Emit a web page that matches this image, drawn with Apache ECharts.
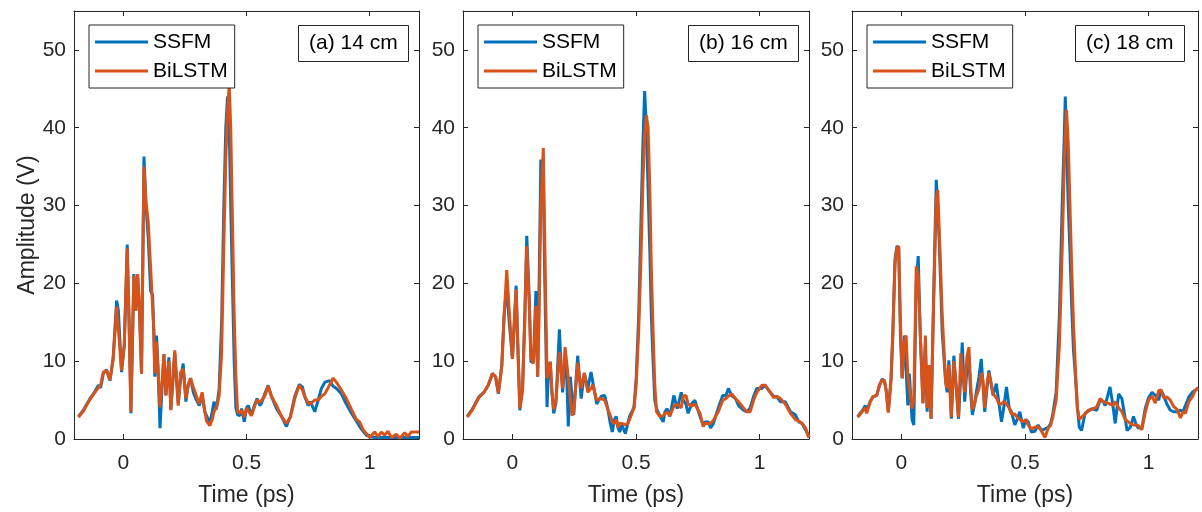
<!DOCTYPE html>
<html>
<head>
<meta charset="utf-8">
<script src="https://cdn.jsdelivr.net/npm/echarts@6/dist/echarts.min.js"></script>
<style>
html,body{margin:0;padding:0;background:#fff;}
#chart{width:1202px;height:512px;}
</style>
</head>
<body>
<div id="chart"></div>
<script>
// ---- data ----
const seriesNames = ['SSFM', 'BiLSTM'];
const panelLabels = ['(a) 14 cm', '(b) 16 cm', '(c) 18 cm'];
const xTicks = [0, 0.5, 1];
const yTicks = [0, 10, 20, 30, 40, 50];

const t14 = [-0.182,-0.162,-0.135,-0.115,-0.101,-0.092,-0.081,-0.068,-0.054,-0.041,
-0.027,-0.020,-0.007,0.004,0.016,0.024,0.031,0.043,0.051,0.058,
0.065,0.074,0.084,0.092,0.101,0.111,0.119,0.124,0.128,0.135,
0.141,0.149,0.158,0.165,0.173,0.185,0.193,0.203,0.209,0.223,
0.232,0.243,0.254,0.264,0.273,0.284,0.297,0.308,0.320,0.331,
0.338,0.351,0.361,0.368,0.378,0.389,0.399,0.408,0.416,0.423,
0.430,0.436,0.443,0.450,0.457,0.464,0.473,0.480,0.491,0.500,
0.507,0.520,0.534,0.543,0.554,0.561,0.574,0.588,0.601,0.622,
0.642,0.662,0.678,0.696,0.714,0.727,0.736,0.750,0.759,0.777,
0.791,0.804,0.818,0.838,0.851,0.865,0.885,0.905,0.926,0.946,
0.959,0.973,0.986,1.000,1.020,1.034,1.047,1.061,1.074,1.088,
1.108,1.122,1.142,1.155,1.169,1.186,1.200];
const ssfm14 = [2.9,3.7,5.2,6.1,6.9,6.6,8.4,8.9,7.5,10.5,
17.8,16.5,8.6,12.0,25.0,14.0,3.3,21.2,16.5,21.2,
17.0,8.4,36.3,30.0,26.0,19.0,18.5,13.5,8.0,13.3,
9.0,1.4,7.0,10.9,5.6,10.5,3.8,8.0,11.0,4.5,
7.5,9.7,4.8,7.0,7.8,6.0,5.0,4.3,5.5,3.5,
3.0,2.0,3.5,4.8,3.8,6.5,15.0,30.0,40.0,44.0,
40.0,30.0,20.0,10.0,4.0,3.1,3.0,3.9,2.2,4.0,
4.3,3.1,4.5,5.2,4.3,4.6,5.8,6.9,5.5,3.9,
2.9,1.6,2.9,5.5,7.0,6.7,5.5,4.3,4.8,3.5,
5.0,6.5,7.3,7.5,6.8,6.5,5.8,4.5,3.3,2.3,
1.6,1.0,0.5,0.3,0.2,0.2,0.2,0.2,0.2,0.2,
0.2,0.2,0.2,0.2,0.2,0.2,0.2];
const bilstm14 = [2.8,3.6,5.1,6.0,6.6,6.9,8.6,8.8,7.6,10.2,
17.0,17.2,8.8,12.0,24.5,15.0,3.5,21.0,16.5,21.2,
17.5,8.4,35.0,30.5,28.0,22.0,17.0,14.0,8.5,12.5,
9.0,4.1,7.5,10.9,5.6,10.0,3.7,9.0,11.4,4.3,
8.5,9.0,5.2,7.0,7.8,6.7,5.5,4.5,6.0,3.5,
2.3,1.7,2.5,3.5,4.0,5.5,11.0,25.0,36.0,42.0,
45.5,40.0,28.0,16.0,8.0,3.5,3.3,3.7,2.8,4.0,
3.8,3.0,4.3,5.0,4.7,4.6,5.5,6.8,5.5,4.3,
2.9,2.0,2.8,5.2,6.9,6.3,5.5,4.6,4.5,5.0,
5.0,5.5,5.8,7.0,7.8,7.3,6.3,5.2,3.8,2.5,
2.2,1.2,0.7,0.2,0.9,0.3,0.9,0.5,1.0,0.2,
0.6,0.1,0.8,0.3,0.9,0.9,0.9];

const t16 = [-0.183,-0.163,-0.136,-0.115,-0.098,-0.081,-0.068,-0.057,-0.043,-0.034,
-0.023,-0.014,0.000,0.015,0.020,0.030,0.041,0.050,0.058,0.068,
0.075,0.085,0.095,0.102,0.108,0.115,0.125,0.131,0.140,0.146,
0.153,0.160,0.167,0.176,0.190,0.196,0.203,0.213,0.219,0.226,
0.234,0.241,0.248,0.264,0.271,0.278,0.291,0.305,0.318,0.325,
0.341,0.359,0.373,0.386,0.396,0.404,0.413,0.420,0.427,0.434,
0.443,0.457,0.467,0.474,0.492,0.501,0.511,0.519,0.528,0.535,
0.542,0.549,0.556,0.562,0.569,0.576,0.583,0.596,0.610,0.617,
0.626,0.637,0.653,0.667,0.683,0.691,0.702,0.711,0.725,0.738,
0.759,0.772,0.779,0.793,0.802,0.813,0.833,0.851,0.864,0.874,
0.888,0.901,0.915,0.935,0.949,0.962,0.976,0.989,1.009,1.023,
1.043,1.057,1.070,1.084,1.104,1.125,1.145,1.159,1.172,1.186,
1.200];
const ssfm16 = [2.9,3.8,5.4,6.0,6.9,8.4,8.0,5.8,9.5,15.8,
19.7,15.4,10.3,19.7,14.0,3.7,6.5,16.0,26.1,18.0,
9.9,9.9,19.0,8.0,20.0,35.9,33.0,20.1,4.1,9.0,
9.9,6.0,3.3,4.6,14.1,10.0,6.0,10.0,9.0,1.6,
8.0,5.5,3.1,10.7,8.0,5.2,8.4,6.5,8.6,8.6,
4.5,5.5,5.6,3.9,2.0,0.9,2.5,2.9,1.5,0.9,
1.8,0.7,2.0,2.9,4.1,8.0,16.0,26.5,38.0,44.7,
40.0,32.0,24.0,16.0,10.0,5.0,3.9,3.0,2.2,3.5,
3.9,2.9,5.6,3.9,6.0,5.0,4.5,3.3,4.5,5.0,
2.9,1.8,2.2,2.2,1.4,2.0,4.0,5.6,5.6,6.5,
5.5,5.3,4.3,3.7,3.5,4.0,5.5,6.5,6.5,6.9,
6.0,5.5,5.4,4.8,4.8,3.5,3.1,2.2,2.0,1.2,
0.2];
const bilstm16 = [2.8,3.7,5.3,6.0,6.9,8.4,8.0,5.9,9.3,15.5,
21.7,17.0,10.3,19.2,13.7,3.9,6.3,15.0,24.8,17.5,
10.5,9.7,17.1,8.0,16.0,30.0,37.4,25.0,7.8,9.0,
9.9,6.0,3.8,4.9,11.2,11.0,6.5,11.8,10.0,7.8,
8.0,3.0,3.5,9.8,8.0,6.5,8.5,6.0,6.5,7.0,
5.0,5.2,5.0,3.8,3.0,2.2,2.0,2.5,1.5,2.0,
2.0,1.8,2.0,2.5,4.0,7.0,14.0,22.0,33.0,39.0,
41.6,40.0,32.0,22.0,14.0,7.0,3.5,2.9,3.0,3.0,
3.5,3.0,4.2,4.5,4.0,5.5,5.6,4.5,4.2,4.5,
3.3,1.6,2.0,2.0,2.0,2.4,3.5,5.0,5.2,5.5,
5.8,5.2,4.8,4.0,3.5,3.5,5.0,6.0,6.9,6.9,
6.0,5.3,5.5,5.2,4.5,3.3,2.5,2.3,2.0,1.4,
0.2];

const t18 = [-0.177,-0.157,-0.146,-0.141,-0.127,-0.116,-0.100,-0.089,-0.078,-0.069,
-0.062,-0.053,-0.042,-0.035,-0.026,-0.018,-0.011,-0.004,0.003,0.012,
0.019,0.026,0.032,0.043,0.050,0.060,0.068,0.076,0.087,0.097,
0.104,0.111,0.120,0.130,0.141,0.147,0.154,0.165,0.179,0.185,
0.192,0.202,0.212,0.222,0.231,0.240,0.246,0.256,0.265,0.273,
0.280,0.287,0.296,0.303,0.314,0.323,0.330,0.337,0.346,0.354,
0.364,0.371,0.384,0.395,0.405,0.414,0.425,0.436,0.445,0.459,
0.468,0.479,0.493,0.503,0.513,0.526,0.540,0.553,0.567,0.581,
0.594,0.604,0.612,0.626,0.639,0.651,0.658,0.663,0.668,0.675,
0.682,0.689,0.696,0.704,0.712,0.720,0.729,0.743,0.756,0.770,
0.790,0.804,0.817,0.824,0.844,0.855,0.865,0.879,0.892,0.906,
0.913,0.926,0.939,0.950,0.959,0.973,0.987,1.000,1.014,1.027,
1.041,1.050,1.061,1.074,1.088,1.101,1.115,1.129,1.139,1.149,
1.163,1.177,1.190,1.200];
const ssfm18 = [2.9,3.7,4.3,3.5,4.8,5.4,5.6,6.9,7.7,7.5,
6.3,3.5,7.8,13.7,23.1,24.8,24.5,13.3,7.8,13.3,
13.3,4.3,8.4,2.5,1.8,20.0,23.5,13.7,4.6,12.0,
3.5,9.5,2.6,18.0,33.3,30.0,24.4,13.7,7.3,6.0,
10.1,2.6,10.7,6.5,2.6,8.0,12.4,4.8,9.0,10.5,
6.0,3.1,4.5,6.0,8.0,10.3,7.0,3.5,6.5,8.8,
6.8,5.6,7.1,4.5,2.2,4.0,6.7,4.0,3.5,1.8,
2.5,3.5,1.4,2.5,2.2,0.9,1.0,1.8,1.1,1.3,
1.5,2.0,3.1,6.0,15.8,30.7,38.0,44.0,38.0,30.0,
24.0,17.0,11.5,8.0,4.0,1.5,1.1,3.3,3.6,3.9,
3.7,5.0,4.8,4.3,6.7,4.5,2.0,5.8,5.2,2.5,
1.1,1.5,2.9,1.8,1.4,1.4,4.0,5.3,6.0,5.6,
5.0,6.3,5.6,4.5,3.7,3.5,3.5,3.7,3.5,4.3,
5.4,6.0,6.3,6.5];
const bilstm18 = [2.8,3.6,4.0,3.3,4.7,5.4,5.6,6.9,7.6,7.5,
6.3,3.4,7.6,13.0,22.5,24.5,24.8,15.0,7.8,12.5,
13.3,8.0,7.8,3.9,5.0,22.2,21.0,13.7,4.6,13.3,
4.0,9.5,2.6,17.0,31.0,32.0,26.0,16.0,7.3,6.5,
9.5,2.8,10.0,6.5,2.8,11.0,9.0,6.0,10.5,11.8,
7.0,3.8,4.5,5.5,6.5,8.5,7.5,4.0,7.0,8.5,
7.0,5.8,5.3,4.5,4.5,4.8,4.5,4.0,3.2,3.2,
2.8,2.5,2.2,2.5,1.8,1.3,1.5,1.6,1.0,0.2,
1.4,1.8,2.8,5.0,12.0,25.0,34.0,39.0,42.3,38.0,
30.0,22.0,15.0,9.0,4.0,2.5,2.8,3.2,3.7,3.8,
4.1,5.2,4.8,4.6,4.5,4.3,4.8,4.0,3.5,2.5,
2.5,2.0,1.8,1.8,1.7,1.2,3.5,5.0,5.5,4.6,
6.2,6.3,5.3,5.4,5.0,4.2,3.8,2.7,3.5,3.3,
4.8,5.4,6.3,6.6];

// ---- layout / styling ----
const panels = [
  {t: t14, s: ssfm14, b: bilstm14, left: 74, width: 345, legendLeft: 89, labelLeft: 298},
  {t: t16, s: ssfm16, b: bilstm16, left: 463, width: 346, legendLeft: 478, labelLeft: 688},
  {t: t18, s: ssfm18, b: bilstm18, left: 852, width: 346, legendLeft: 867, labelLeft: 1075}
];
panels.forEach((p, i) => {
  if (p.t.length !== p.s.length || p.t.length !== p.b.length) {
    throw new Error('length mismatch panel ' + i + ': ' + p.t.length + ' ' + p.s.length + ' ' + p.b.length);
  }
});

const FONT = 'Liberation Sans, Arial, Helvetica, sans-serif';
const AX = '#262626';
const BLUE = '#0072BD';
const ORANGE = '#D95319';
const TOP = 11, HEIGHT = 430;

const grid = [], xAxis = [], yAxis = [], series = [], legend = [], title = [];
panels.forEach((p, i) => {
  grid.push({left: p.left, top: TOP, width: p.width, height: HEIGHT, containLabel: false});
  const lineStyle = {color: AX, width: 1};
  const baseX = {
    gridIndex: i, type: 'value', min: -0.2, max: 1.2,
    splitLine: {show: false},
    axisLine: {show: true, onZero: false, lineStyle},
    axisTick: {show: true, inside: true, length: 5, customValues: xTicks, lineStyle}
  };
  xAxis.push(Object.assign({}, baseX, {
    position: 'bottom',
    axisLabel: {show: true, customValues: xTicks, margin: 14, fontSize: 21, color: AX, fontFamily: FONT,
      formatter: v => String(v)},
    name: 'Time (ps)', nameLocation: 'middle', nameGap: 45,
    nameTextStyle: {fontSize: 23, color: AX, fontFamily: FONT}
  }));
  xAxis.push(Object.assign({}, baseX, {position: 'top', axisLabel: {show: false}}));
  const baseY = {
    gridIndex: i, type: 'value', min: 0, max: 55,
    splitLine: {show: false},
    axisLine: {show: true, onZero: false, lineStyle},
    axisTick: {show: true, inside: true, length: 5, customValues: yTicks, lineStyle}
  };
  const yl = Object.assign({}, baseY, {
    position: 'left',
    axisLabel: {show: true, customValues: yTicks, margin: 8, fontSize: 21, color: AX, fontFamily: FONT,
      formatter: v => String(v)}
  });
  if (i === 0) {
    yl.name = 'Amplitude (V)';
    yl.nameLocation = 'middle';
    yl.nameGap = 35;
    yl.nameTextStyle = {fontSize: 23, color: AX, fontFamily: FONT};
  }
  yAxis.push(yl);
  yAxis.push(Object.assign({}, baseY, {position: 'right', axisLabel: {show: false}}));

  const mk = (vals) => p.t.map((t, k) => [t, vals[k]]);
  series.push({
    name: seriesNames[0], type: 'line', xAxisIndex: 2 * i, yAxisIndex: 2 * i,
    data: mk(p.s), symbol: 'none', showSymbol: false, smooth: false,
    lineStyle: {color: BLUE, width: 3}, itemStyle: {color: BLUE}, z: 2
  });
  series.push({
    name: seriesNames[1], type: 'line', xAxisIndex: 2 * i, yAxisIndex: 2 * i,
    data: mk(p.b), symbol: 'none', showSymbol: false, smooth: false,
    lineStyle: {color: ORANGE, width: 3}, itemStyle: {color: ORANGE}, z: 3
  });

  legend.push({
    data: seriesNames, orient: 'vertical', left: p.legendLeft, top: 25,
    backgroundColor: '#fff', borderColor: AX, borderWidth: 1, borderRadius: 0,
    padding: [6, 7, 6, 6], itemWidth: 53, itemHeight: 3, itemGap: 7,
    icon: 'rect', selectedMode: false,
    textStyle: {fontSize: 21, lineHeight: 22, color: '#000', fontFamily: FONT}
  });
  title.push({
    text: panelLabels[i], left: p.labelLeft, top: 25,
    backgroundColor: '#fff', borderColor: AX, borderWidth: 1,
    padding: [6, 11, 6, 11],
    textStyle: {fontSize: 21, lineHeight: 25, fontWeight: 'normal', color: '#000', fontFamily: FONT}
  });
});

const chart = echarts.init(document.getElementById('chart'), null, {renderer: 'canvas'});
chart.setOption({
  animation: false,
  backgroundColor: '#fff',
  grid, xAxis, yAxis, series, legend, title
});
</script>
</body>
</html>
